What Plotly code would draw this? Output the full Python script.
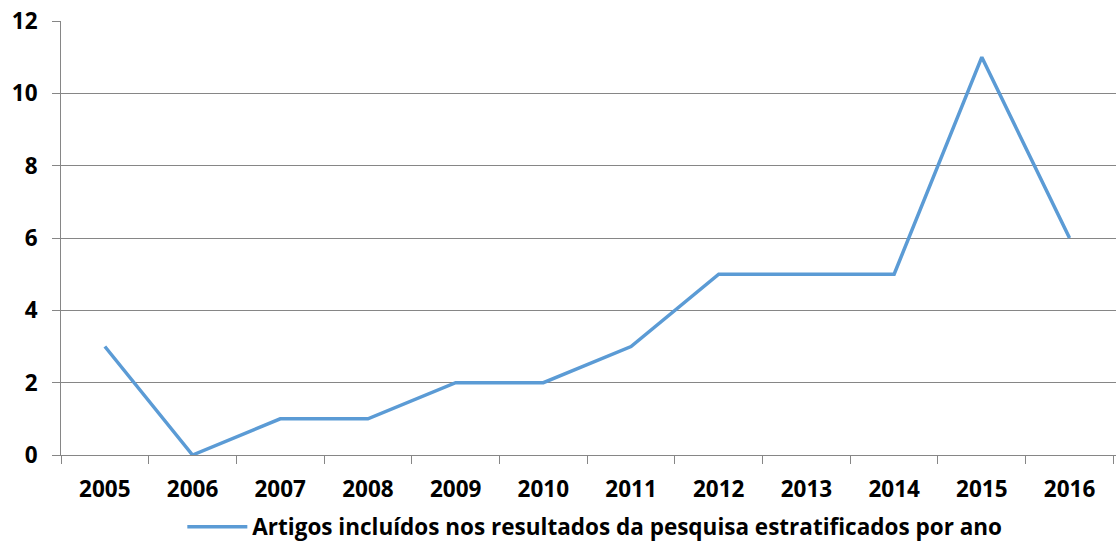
import plotly.graph_objects as go

years = ["2005", "2006", "2007", "2008", "2009", "2010", "2011", "2012", "2013", "2014", "2015", "2016"]
values = [3, 0, 1, 1, 2, 2, 3, 5, 5, 5, 11, 6]
series_name = "Artigos incluídos nos resultados da pesquisa estratificados por ano"

FAM = "Open Sans, Lato, sans-serif"
tick_font = dict(family=FAM, size=22.5, color="#000000", weight="bold")

fig = go.Figure()
fig.add_trace(go.Scatter(
    x=years, y=values, mode="lines", name=series_name,
    line=dict(color="#5B9BD5", width=3.5),
))

fig.update_layout(
    width=1116, height=545,
    margin=dict(l=61, r=0, t=21, b=90, autoexpand=False),
    plot_bgcolor="white", paper_bgcolor="white",
    font=dict(family=FAM, size=22.5, color="#000000"),
    showlegend=True,
    legend=dict(orientation="h", x=0.533, xanchor="center", xref="container",
                y=1 - 527 / 545, yanchor="middle", yref="container",
                itemwidth=60,
                font=tick_font),
    xaxis=dict(
        type="category", range=[-0.5, 11.53],
        showline=True, linecolor="#868686", linewidth=1,
        ticks="outside", tickson="boundaries", ticklen=8, tickcolor="#868686",
        ticklabelstandoff=14,
        showgrid=False, automargin=False,
        tickfont=tick_font,
    ),
    yaxis=dict(
        range=[0, 12], dtick=2,
        showline=True, linecolor="#868686", linewidth=1,
        ticks="outside", ticklen=8, tickcolor="#868686",
        ticklabelstandoff=10,
        showgrid=True, gridcolor="#868686", gridwidth=1,
        zeroline=False, automargin=False,
        tickfont=tick_font,
    ),
)

fig.write_html("out.html")
